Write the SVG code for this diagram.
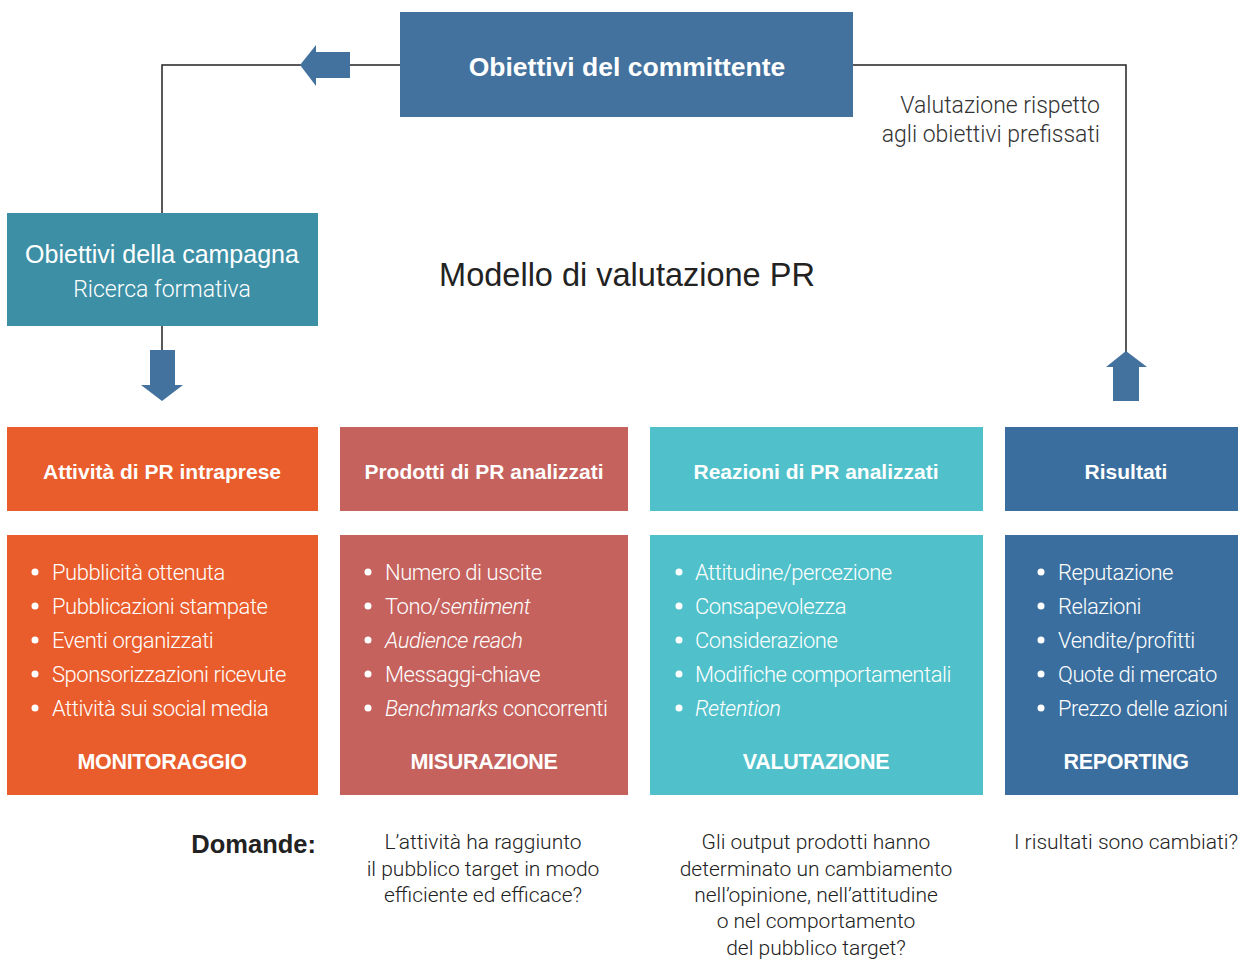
<svg xmlns="http://www.w3.org/2000/svg" width="1238" height="961" viewBox="0 0 1238 961">
<defs>
<style>
text{font-family:"Liberation Sans",Arial,sans-serif;}
.w{fill:#fff}
.lt{font-family:Roboto,"Liberation Sans",sans-serif;font-weight:300}
.hd{font-size:21px;font-weight:bold;text-anchor:middle;fill:#fff}
.it{font-size:22px;fill:#fff;font-family:Roboto,"Liberation Sans",sans-serif;font-weight:300;letter-spacing:-0.45px}
.ft{font-size:21.5px;font-weight:bold;text-anchor:middle;fill:#fff;letter-spacing:-0.3px}
.q{font-size:21px;fill:#222;text-anchor:middle;font-family:Roboto,"Liberation Sans",sans-serif;font-weight:300}
.conn{fill:none;stroke:#222;stroke-width:1.5}
.arr{fill:#43729e}
</style>
</defs>
<rect width="1238" height="961" fill="#fff"/>
<g id="connectors">
<path class="conn" d="M400,65 H162 V213"/>
<path class="conn" d="M162,326 V351"/>
<path class="conn" d="M853,65 H1126 V352"/>
<polygon class="arr" points="300,65 316,45 316,52 350,52 350,78 316,78 316,86"/>
<polygon class="arr" points="162,401 141,385 150,385 150,350 175,350 175,385 183,385"/>
<polygon class="arr" points="1126,351 1147,367 1139,367 1139,401 1113,401 1113,367 1106,367"/>
</g>
<g id="node-committente">
<rect x="400" y="12" width="453" height="105" fill="#43729e"/>
<text x="627" y="76" font-size="26.5" font-weight="bold" text-anchor="middle" class="w">Obiettivi del committente</text>
</g>
<g id="label-valutazione">
<text x="1100" y="113" font-size="23" text-anchor="end" fill="#333" class="lt">Valutazione rispetto</text>
<text x="1100" y="142" font-size="23" text-anchor="end" fill="#333" class="lt">agli obiettivi prefissati</text>
</g>
<g id="node-campagna">
<rect x="7" y="213" width="311" height="113" fill="#3d8fa6"/>
<text x="162" y="263" font-size="25" text-anchor="middle" class="w">Obiettivi della campagna</text>
<text x="162" y="297" font-size="23" text-anchor="middle" class="w lt">Ricerca formativa</text>
</g>
<g id="title">
<text x="627" y="286" font-size="32.5" text-anchor="middle" fill="#222">Modello di valutazione PR</text>
</g>
<g id="col-attivita">
<rect x="7" y="427" width="311" height="84" fill="#e95c2b"/>
<text x="162" y="479" class="hd">Attività di PR intraprese</text>
<rect x="7" y="535" width="311" height="260" fill="#e95c2b"/>
<g class="w"><circle cx="35" cy="572" r="3.5"/><circle cx="35" cy="606" r="3.5"/><circle cx="35" cy="640" r="3.5"/><circle cx="35" cy="674" r="3.5"/><circle cx="35" cy="708" r="3.5"/></g>
<text x="52" y="580" class="it">Pubblicità ottenuta</text>
<text x="52" y="614" class="it">Pubblicazioni stampate</text>
<text x="52" y="648" class="it">Eventi organizzati</text>
<text x="52" y="682" class="it">Sponsorizzazioni ricevute</text>
<text x="52" y="716" class="it">Attività sui social media</text>
<text x="162" y="769" class="ft">MONITORAGGIO</text>
</g>
<g id="col-prodotti">
<rect x="340" y="427" width="288" height="84" fill="#c5625d"/>
<text x="484" y="479" class="hd">Prodotti di PR analizzati</text>
<rect x="340" y="535" width="288" height="260" fill="#c5625d"/>
<g class="w"><circle cx="368" cy="572" r="3.5"/><circle cx="368" cy="606" r="3.5"/><circle cx="368" cy="640" r="3.5"/><circle cx="368" cy="674" r="3.5"/><circle cx="368" cy="708" r="3.5"/></g>
<text x="385" y="580" class="it">Numero di uscite</text>
<text x="385" y="614" class="it">Tono/<tspan font-style="italic">sentiment</tspan></text>
<text x="385" y="648" class="it" font-style="italic">Audience reach</text>
<text x="385" y="682" class="it">Messaggi-chiave</text>
<text x="385" y="716" class="it"><tspan font-style="italic">Benchmarks</tspan> concorrenti</text>
<text x="484" y="769" class="ft">MISURAZIONE</text>
</g>
<g id="col-reazioni">
<rect x="650" y="427" width="333" height="84" fill="#50c1ca"/>
<text x="816" y="479" class="hd">Reazioni di PR analizzati</text>
<rect x="650" y="535" width="333" height="260" fill="#50c1ca"/>
<g class="w"><circle cx="679" cy="572" r="3.5"/><circle cx="679" cy="606" r="3.5"/><circle cx="679" cy="640" r="3.5"/><circle cx="679" cy="674" r="3.5"/><circle cx="679" cy="708" r="3.5"/></g>
<text x="695" y="580" class="it">Attitudine/percezione</text>
<text x="695" y="614" class="it">Consapevolezza</text>
<text x="695" y="648" class="it">Considerazione</text>
<text x="695" y="682" class="it">Modifiche comportamentali</text>
<text x="695" y="716" class="it" font-style="italic">Retention</text>
<text x="816" y="769" class="ft">VALUTAZIONE</text>
</g>
<g id="col-risultati">
<rect x="1005" y="427" width="233" height="84" fill="#3a6e9e"/>
<text x="1126" y="479" class="hd">Risultati</text>
<rect x="1005" y="535" width="233" height="260" fill="#3a6e9e"/>
<g class="w"><circle cx="1041" cy="572" r="3.5"/><circle cx="1041" cy="606" r="3.5"/><circle cx="1041" cy="640" r="3.5"/><circle cx="1041" cy="674" r="3.5"/><circle cx="1041" cy="708" r="3.5"/></g>
<text x="1058" y="580" class="it">Reputazione</text>
<text x="1058" y="614" class="it">Relazioni</text>
<text x="1058" y="648" class="it">Vendite/profitti</text>
<text x="1058" y="682" class="it">Quote di mercato</text>
<text x="1058" y="716" class="it">Prezzo delle azioni</text>
<text x="1126" y="769" class="ft">REPORTING</text>
</g>
<g id="domande">
<text x="316" y="853" font-size="25.5" font-weight="bold" text-anchor="end" fill="#222">Domande:</text>
<text x="483" y="849" class="q">L’attività ha raggiunto</text>
<text x="483" y="876" class="q">il pubblico target in modo</text>
<text x="483" y="902" class="q">efficiente ed efficace?</text>
<text x="816" y="849" class="q">Gli output prodotti hanno</text>
<text x="816" y="876" class="q">determinato un cambiamento</text>
<text x="816" y="902" class="q">nell’opinione, nell’attitudine</text>
<text x="816" y="928" class="q">o nel comportamento</text>
<text x="816" y="955" class="q">del pubblico target?</text>
<text x="1126" y="849" class="q">I risultati sono cambiati?</text>
</g>
</svg>
